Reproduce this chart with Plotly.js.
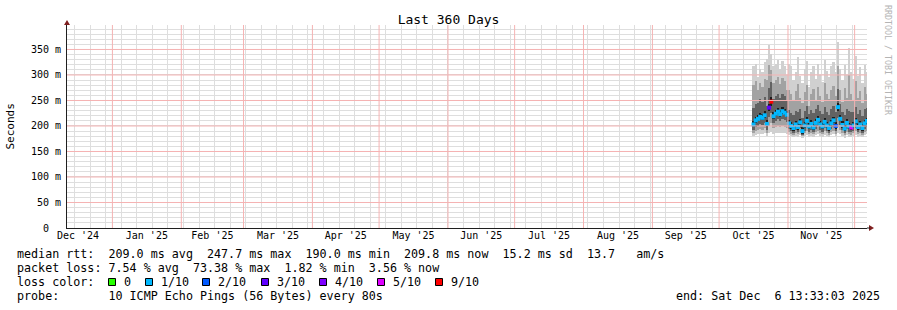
<!DOCTYPE html>
<html><head><meta charset="utf-8">
<script src="https://cdn.plot.ly/plotly-3.0.1.min.js"></script>
<style>html,body{margin:0;padding:0;background:#fff;}#chart{width:897px;height:310px;}</style>
</head><body><div id="chart"></div>
<script>
// ---- data (values in ms) ----
const days = [
 '2025-10-16 12:00','2025-10-17 12:00','2025-10-18 12:00','2025-10-19 12:00','2025-10-20 12:00','2025-10-21 12:00','2025-10-22 12:00','2025-10-23 12:00',
 '2025-10-24 12:00','2025-10-25 12:00','2025-10-26 12:00','2025-10-27 12:00','2025-10-28 12:00','2025-10-29 12:00','2025-10-30 12:00','2025-10-31 12:00',
 '2025-11-01 12:00','2025-11-02 12:00','2025-11-03 12:00','2025-11-04 12:00','2025-11-05 12:00','2025-11-06 12:00','2025-11-07 12:00','2025-11-08 12:00',
 '2025-11-09 12:00','2025-11-10 12:00','2025-11-11 12:00','2025-11-12 12:00','2025-11-13 12:00','2025-11-14 12:00','2025-11-15 12:00','2025-11-16 12:00',
 '2025-11-17 12:00','2025-11-18 12:00','2025-11-19 12:00','2025-11-20 12:00','2025-11-21 12:00','2025-11-22 12:00','2025-11-23 12:00','2025-11-24 12:00',
 '2025-11-25 12:00','2025-11-26 12:00','2025-11-27 12:00','2025-11-28 12:00','2025-11-29 12:00','2025-11-30 12:00',
 '2025-12-01 12:00','2025-12-02 12:00','2025-12-03 12:00','2025-12-04 12:00','2025-12-05 12:00','2025-12-06 12:00'];
const medianRtt = [203,211,214,218,216,221,204,236,247.7,219,224,228,223,229,226,222,
 205,200,196,203,198,207,190,201,210,199,204,197,206,212,203,199,208,201,196,205,211,200,237,214,202,195,206,199,197,201,
 209,198,203,196,205,209.8];
const maxRtt = [318,322,296,312,305,326,331,359,342,318,322,330,312,327,318,300,
 322,318,290,305,335,298,284,312,328,276,305,318,293,322,300,286,330,308,296,318,325,305,365,312,290,320,300,352,305,292,
 338,298,315,285,320,305];
const p90Rtt = [280,288,270,285,276,292,290,320,310,284,290,296,282,294,288,270,
 270,262,250,268,282,255,245,266,280,240,262,272,250,276,258,248,285,262,252,270,278,258,318,270,248,274,255,300,262,250,
 288,255,268,245,276,262];
const p75Rtt = [236,244,246,252,248,256,240,274,286,252,258,262,254,262,258,250,
 232,226,222,230,228,234,216,230,240,224,232,226,234,242,230,224,238,228,222,234,240,228,272,244,228,222,234,230,228,228,
 238,224,232,220,234,236];
const p60Rtt = [210,218,221,226,223,229,212,244,256,227,232,236,231,237,234,230,
 212,207,203,210,205,214,198,208,217,206,211,204,213,219,210,206,215,208,203,212,218,207,245,221,209,202,213,206,204,208,
 216,205,210,203,212,216];
const p40Rtt = [198,206,209,213,211,216,199,229,240,214,219,223,218,224,221,217,
 200,195,191,198,193,202,185,196,205,194,199,192,201,207,198,194,203,196,191,200,206,195,230,209,197,190,201,194,192,196,
 204,193,198,191,200,204];
const p25Rtt = [192,198,200,204,202,206,192,218,226,206,210,214,210,214,212,208,
 194,190,187,192,188,196,182,191,198,189,193,188,195,200,192,189,197,191,187,194,199,190,215,202,192,186,195,189,188,191,
 197,189,193,187,195,198];
const p10Rtt = [186,190,192,194,193,196,186,200,205,196,198,200,198,200,199,196,
 188,185,183,186,184,189,180,186,190,184,187,184,188,191,186,184,190,186,183,188,191,185,198,192,186,182,188,184,183,186,
 190,184,187,183,188,190];
const minRtt = [180,182,184,185,184,186,180,186,188,185,186,187,186,187,186,185,
 182,180,178,181,179,183,176,180,183,179,181,179,182,184,181,179,183,180,178,182,184,180,186,184,180,177,182,179,178,180,
 183,179,181,178,182,184];
const lossTenths = [1,1,1,1,1,1,1,3,9,1,1,1,1,1,1,1,
 1,1,1,1,1,1,1,1,1,1,1,1,1,1,1,1,1,1,1,1,1,2,1,1,1,1,1,1,5,1,
 1,1,1,1,1,1];
const lossLevels = [0,1,2,3,4,5,9];
const lossLabels = ['0','1/10','2/10','3/10','4/10','5/10','9/10'];
const lossColors = ['#26ff00','#00b8ff','#0059ff','#5e00ff','#7e00ff','#dd00ff','#ff0000'];
const yTickVals = [0,50,100,150,200,250,300,350];
const yTickText = ['0  ','50 m','100 m','150 m','200 m','250 m','300 m','350 m'];
const monthStarts = ['2025-01-01','2025-02-01','2025-03-01','2025-04-01','2025-05-01','2025-06-01',
  '2025-07-01','2025-08-01','2025-09-01','2025-10-01','2025-11-01','2025-12-01'];
const rangeStart = '2024-12-11 13:33:03', rangeEnd = '2025-12-06 13:33:03';
const rttLine = 'median rtt:  209.0 ms avg  247.7 ms max  190.0 ms min  209.8 ms now  15.2 ms sd  13.7   am/s';
const lossLine = 'packet loss: 7.54 % avg  73.38 % max  1.82 % min  3.56 % now';
const probeLine = 'probe:       10 ICMP Echo Pings (56 Bytes) every 80s';
const endLine = 'end: Sat Dec  6 13:33:03 2025';

// ---- helpers ----
const DAY = 86400000;
const L=67, T=25, PW=800, PH=203, BASEY=228;
const px = x => (x - L)/PW;
const py = y => (BASEY - y)/PH;
const nb = s => s.replace(/ /g,'\u00A0');
const MONO = 'DejaVu Sans Mono';
const colorFor = l => { let c = lossColors[0]; lossLevels.forEach((lv,i)=>{ if(l>=lv) c=lossColors[i]; }); return c; };

function band(lo, hi, color){
  return {type:'bar', x:days, base:lo, y:hi.map((v,i)=>v-lo[i]), width:DAY,
    marker:{color:color, line:{width:0}}, hoverinfo:'skip'};
}
const traces = [
  band(minRtt, maxRtt, '#d0d0d0'),
  band(p10Rtt, p90Rtt, '#a2a2a2'),
  band(p25Rtt, p75Rtt, '#626262'),
  band(p40Rtt, p60Rtt, '#1e1e1e'),
  {type:'scatter', mode:'markers', x:days, y:medianRtt, xaxis:'x2',
   marker:{symbol:'square', size:4, color:lossTenths.map(colorFor), line:{width:0}}, hoverinfo:'skip'}
];

const GRAY = '#dedede', RED = '#f5b3b3';
const annotations = [];
function txt(s, x, y, opts){ annotations.push(Object.assign({text:nb(s), xref:'paper', yref:'paper', x:px(x), y:py(y),
  xanchor:'left', yanchor:'middle', showarrow:false, borderpad:0, font:{family:MONO, size:11.7, color:'#000'}}, opts||{})); }
txt(rttLine, 16, 254);
txt(lossLine, 16, 268);
txt('loss color:', 16, 282);
txt(probeLine, 16, 296);
txt(endLine, 881, 296, {xanchor:'right'});
const swatchX = [108,145,202,261,319,377,435];
const shapes = [];
lossLabels.forEach((lab,i)=>{
  txt(lab, swatchX[i]+15, 282);
  shapes.push({type:'rect', xref:'paper', yref:'paper', x0:px(swatchX[i]+0.5), x1:px(swatchX[i]+7.5), y0:py(278.5), y1:py(285.5),
    fillcolor:lossColors[i], line:{color:'#000', width:1}});
});
// major grid (light red, drawn over the smoke like rrdtool)
monthStarts.forEach(m => shapes.push({type:'line', xref:'x', yref:'paper', x0:m, x1:m, y0:0, y1:1, layer:'above',
  line:{color:RED, width:1}}));
yTickVals.slice(1).forEach(v => shapes.push({type:'line', xref:'paper', yref:'y', x0:0, x1:1, y0:v, y1:v, layer:'above',
  line:{color:RED, width:1}}));
annotations.push({text:'Seconds', xref:'paper', yref:'paper', x:px(10), y:0.5, textangle:-90, showarrow:false,
  xanchor:'center', yanchor:'middle', font:{family:MONO, size:11, color:'#000'}});
annotations.push({text:nb('RRDTOOL / TOBI OETIKER'), xref:'paper', yref:'paper', x:px(888), y:py(60), textangle:90, showarrow:false,
  xanchor:'center', yanchor:'middle', font:{family:MONO, size:8.3, color:'#b4b4b4'}});
// axis arrows
shapes.push({type:'path', xref:'paper', yref:'paper', xsizemode:'pixel', ysizemode:'pixel', xanchor:0, yanchor:1,
  path:'M-3,0 L3,0 L0,5 Z', fillcolor:'#7f1f1f', line:{width:0}});
shapes.push({type:'path', xref:'paper', yref:'paper', xsizemode:'pixel', ysizemode:'pixel', xanchor:1, yanchor:0,
  path:'M2,3 L2,-3 L7,0 Z', fillcolor:'#7f1f1f', line:{width:0}});
shapes.push({type:'line', xref:'paper', yref:'paper', xsizemode:'pixel', ysizemode:'pixel', xanchor:1, yanchor:0,
  x0:0, x1:3, y0:0, y1:0, line:{color:'#1f1f1f', width:1}});

const layout = {
  width:897, height:310, margin:{l:L, r:30, t:T, b:82, pad:0},
  paper_bgcolor:'#fff', plot_bgcolor:'#fff', showlegend:false, barmode:'overlay', bargap:0,
  font:{family:MONO, size:10, color:'#000'},
  title:{text:'Last 360 Days', font:{family:MONO, size:13, color:'#000'}, xref:'container', yref:'container',
    x:0.5, y:1-19/310, xanchor:'center', yanchor:'middle'},
  // weekly gray grid, no labels
  xaxis:{type:'date', range:[rangeStart, rangeEnd], tickmode:'linear', dtick:7*DAY, tick0:'2024-12-15', ticks:'',
    showticklabels:false, showgrid:true, gridcolor:GRAY, gridwidth:1,
    showline:true, linecolor:'#1f1f1f', linewidth:1, zeroline:false, fixedrange:true},
  // month labels centred in each month
  xaxis2:{type:'date', overlaying:'x', anchor:'y', side:'bottom', range:[rangeStart, rangeEnd],
    tickmode:'linear', dtick:'M1', tick0:'2024-12-01', ticklabelmode:'period', tickformat:"%b '%y", ticks:'',
    showgrid:false, showline:false, zeroline:false, fixedrange:true,
    tickfont:{family:MONO, size:10, color:'#000'}},
  yaxis:{range:[0,398], tickmode:'linear', tick0:0, dtick:10, showticklabels:false, ticks:'',
    showgrid:true, gridcolor:GRAY, gridwidth:1,
    showline:true, linecolor:'#1f1f1f', linewidth:1, zeroline:false, fixedrange:true},
  // y labels on an overlaid axis
  yaxis2:{overlaying:'y', anchor:'x', side:'left', range:[0,398], tickmode:'array', tickvals:yTickVals,
    ticktext:yTickText.map(nb), ticks:'', showgrid:false, showline:false, zeroline:false, fixedrange:true,
    ticklabelstandoff:5, tickfont:{family:MONO, size:10, color:'#000'}},
  annotations, shapes
};
// invisible anchor trace so the label axis y2 is drawn
traces.push({type:'scatter', mode:'markers', x:[days[0]], y:[medianRtt[0]], yaxis:'y2', xaxis:'x2',
  marker:{opacity:0}, hoverinfo:'skip'});
Plotly.newPlot('chart', traces, layout, {staticPlot:true, displayModeBar:false});
</script></body></html>
